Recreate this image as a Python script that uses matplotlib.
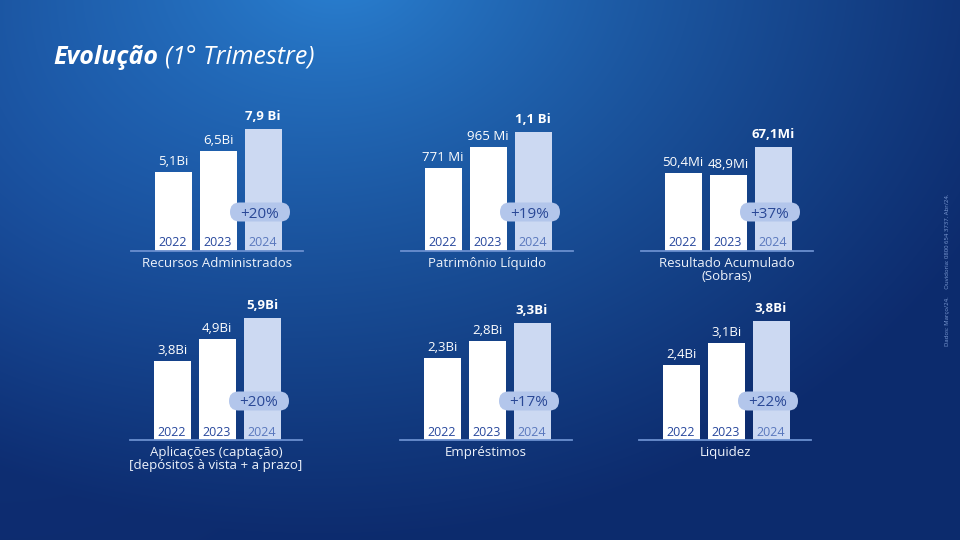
import numpy as np
import matplotlib
matplotlib.use('Agg')
import matplotlib.pyplot as plt
from matplotlib.patches import FancyBboxPatch
from matplotlib.transforms import ScaledTranslation

plt.rcParams['font.family'] = ['Open Sans', 'DejaVu Sans']

# dados
years = ['2022', '2023', '2024']
categories = ['Recursos Administrados', 'Patrimônio Líquido', 'Resultado Acumulado\n(Sobras)',
              'Aplicações (captação)\n[depósitos à vista + a prazo]', 'Empréstimos', 'Liquidez']
recursos = [5.1, 6.5, 7.9]
patrimonio = [771, 965, 1100]
resultado = [50.4, 48.9, 67.1]
aplicacoes = [3.8, 4.9, 5.9]
emprestimos = [2.3, 2.8, 3.3]
liquidez = [2.4, 3.1, 3.8]
value_labels = [['5,1Bi', '6,5Bi', '7,9 Bi'],
                ['771 Mi', '965 Mi', '1,1 Bi'],
                ['50,4Mi', '48,9Mi', '67,1Mi'],
                ['3,8Bi', '4,9Bi', '5,9Bi'],
                ['2,3Bi', '2,8Bi', '3,3Bi'],
                ['2,4Bi', '3,1Bi', '3,8Bi']]
growth = ['+20%', '+19%', '+37%', '+20%', '+17%', '+22%']
series = [recursos, patrimonio, resultado, aplicacoes, emprestimos, liquidez]

# layout (pixels)
W, H = 960, 540
lefts = [131, 401, 641, 130, 400, 639]
baselines = [251, 251, 251, 440, 440, 440]
top_px = [122, 119, 104, 122, 117, 119]   # altura da maior barra
ax_w, ax_h = 172, 150

fig = plt.figure(figsize=(W / 100, H / 100), dpi=100)

# fundo em gradiente
bg = fig.add_axes([0, 0, 1, 1])
yy, xx = np.mgrid[0:H, 0:W]
d = np.sqrt(((xx - 340) / 1.0) ** 2 + ((yy + 40) * 1.25) ** 2)
t = np.clip(d / 720, 0, 1) ** 0.8
light = np.array([0.17, 0.52, 0.84])
dark = np.array([0.05, 0.17, 0.43])
img = light[None, None, :] * (1 - t[..., None]) + dark[None, None, :] * t[..., None]
# leve brilho no lado esquerdo
g = np.exp(-(((xx - 0) / 260) ** 2 + ((yy - 200) / 260) ** 2)) * 0.05
img = np.clip(img + g[..., None] * np.array([0.2, 0.5, 1.0]), 0, 1)
bg.imshow(img, aspect='auto', extent=[0, W, H, 0])
bg.set_xlim(0, W)
bg.set_ylim(H, 0)
bg.axis('off')

t1 = bg.text(53, 57, 'Evolução', color='white', fontsize=18, fontweight='bold',
             fontstyle='italic', va='center', ha='left')
fig.canvas.draw()
ext = t1.get_window_extent(fig.canvas.get_renderer())
bg.text(ext.x1 + 7, 57, '(1° Trimestre)', color='white', fontsize=18,
        fontstyle='italic', va='center', ha='left')
bg.text(948, 270, 'Dados: Março/24.     Ouvidoria: 0800 654 3737. Abr/24.',
        color='#7d9bd3', fontsize=4.3, rotation=90, va='center', ha='center')

white = '#ffffff'
bar24 = '#ccd9f2'
pill_c = '#b3c6eb'
navy = '#27479c'

for k in range(6):
    vals = series[k]
    ax = fig.add_axes([lefts[k] / W, (H - baselines[k]) / H, ax_w / W, ax_h / H])
    ax.patch.set_alpha(0)
    x = np.arange(3)
    ax.bar(x, vals, width=37 / 45, color=[white, white, bar24], zorder=2)
    ax.set_xlim(-42 / 45, -42 / 45 + ax_w / 45)
    ax.set_ylim(0, max(vals) * ax_h / top_px[k])
    for s in ['top', 'left', 'right']:
        ax.spines[s].set_visible(False)
    ax.spines['bottom'].set_color('#6a8fcf')
    ax.spines['bottom'].set_linewidth(1.3)
    ax.set_xticks([])
    ax.set_yticks([])

    for i in range(3):
        ax.annotate(value_labels[k][i], (x[i], vals[i]), xytext=(0, 6 if i == 2 else 4),
                    textcoords='offset pixels', ha='center', va='bottom',
                    color='white', fontsize=9.5,
                    fontweight='bold' if i == 2 else 'normal')
        ax.annotate(years[i], (x[i], 0), xytext=(0, 8), textcoords='offset pixels',
                    ha='center', va='center', fontsize=9,
                    color=navy if i < 2 else '#5a78bd')

    # pílula de crescimento
    tr = fig.dpi_scale_trans + ScaledTranslation(2, 0, ax.transData)
    pill = FancyBboxPatch((-0.33, 0.295), 0.60, 0.19,
                          boxstyle='round,pad=0,rounding_size=0.095',
                          transform=tr, facecolor=pill_c, edgecolor='none',
                          zorder=3, clip_on=False)
    ax.add_patch(pill)
    ax.annotate(growth[k], (2, 0), xytext=(-3, 39), textcoords='offset pixels',
                ha='center', va='center_baseline', fontsize=11, color='#2a4896', zorder=4)

    ax.annotate(categories[k], (0.5, 0), xycoords='axes fraction', xytext=(0, -6),
                textcoords='offset pixels', ha='center', va='top', fontsize=9.5,
                color='#eef3fb', linespacing=1.05)

fig.savefig('out.png', dpi=100)
